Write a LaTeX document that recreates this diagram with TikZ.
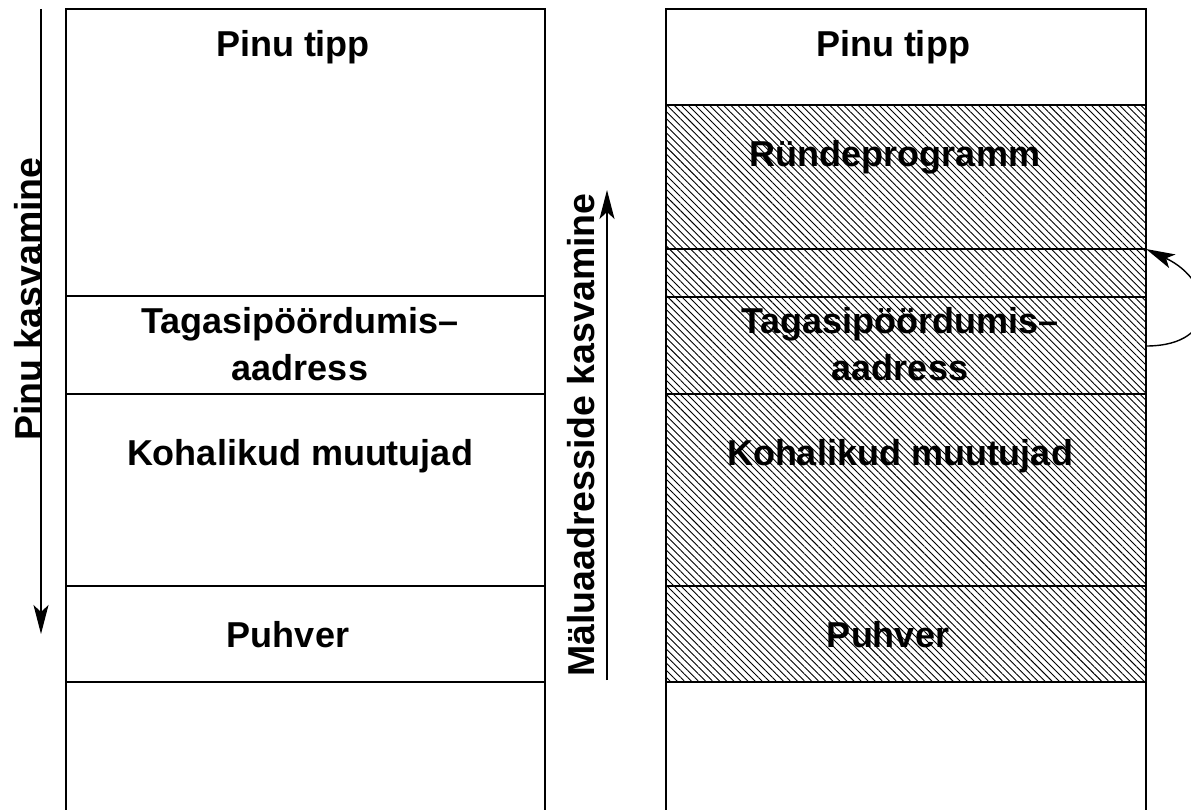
\documentclass[tikz,border=0pt]{standalone}
\usepackage{fontspec}
\setmainfont{Liberation Sans}
\usetikzlibrary{arrows.meta,patterns.meta}

\begin{document}
\begin{tikzpicture}[
    x=1pt, y=-1pt,
    cell/.style={draw, line width=1.1pt},
    hatch/.style={pattern={Lines[angle=-45, distance=5pt, line width=0.9pt]}},
    lbl/.style={font=\fontsize{36}{47}\selectfont\bfseries, align=center, inner sep=0pt},
    vlbl/.style={font=\fontsize{37.5}{47}\selectfont\bfseries, rotate=90, anchor=base, inner sep=0pt},
    growarrow/.style={line width=1.4pt, -{Stealth[length=29pt, width=15pt, inset=7pt]}}
]
    \useasboundingbox (0,0) rectangle (1191,810);

    % hatched part of the attacked stack
    \fill[hatch] (666,105) rectangle (1146,682);

    % left stack
    \draw[cell] (66,810) -- (66,9) -- (545,9) -- (545,810);
    \foreach \y in {296,394,586,682}
        \draw[cell] (66,\y) -- (545,\y);

    % right stack
    \draw[cell] (666,810) -- (666,9) -- (1146,9) -- (1146,810);
    \foreach \y in {105,249,297,394,586,682}
        \draw[cell] (666,\y) -- (1146,\y);

    \node[lbl, anchor=base] (ltop) at (293,57) {Pinu tipp};
    \node[lbl] (lret) at (300,344) {Tagasipöördumis--\\aadress};
    \node[lbl, anchor=base] (lloc) at (300,465) {Kohalikud muutujad};
    \node[lbl, anchor=base] (lbuf) at (288,647) {Puhver};

    \node[lbl, anchor=base] (rtop) at (893,57) {Pinu tipp};
    \node[lbl, anchor=base] (rcode) at (895,167) {Ründeprogramm};
    \node[lbl] (rret) at (900,344) {Tagasipöördumis--\\aadress};
    \node[lbl, anchor=base] (rloc) at (900,465) {Kohalikud muutujad};
    \node[lbl, anchor=base] (rbuf) at (888,647) {Puhver};

    % growth directions
    \node[vlbl] (stackgrow) at (41,299) {Pinu kasvamine};
    \node[vlbl] (addrgrow) at (594,435) {Mäluaadresside kasvamine};

    \coordinate (sg1) at (41,9);
    \coordinate (sg2) at (41,634);
    \coordinate (ag1) at (607,680);
    \coordinate (ag2) at (607,190);
    \draw[growarrow] (sg1) -- (sg2);
    \draw[growarrow] (ag1) -- (ag2);

    % overwritten return address points into the code
    \coordinate (jmp1) at (1146,346);
    \coordinate (jmp2) at (1146,249);
    \draw[growarrow] (jmp1) to[out=0, in=-25, looseness=2] (jmp2);
\end{tikzpicture}
\end{document}
